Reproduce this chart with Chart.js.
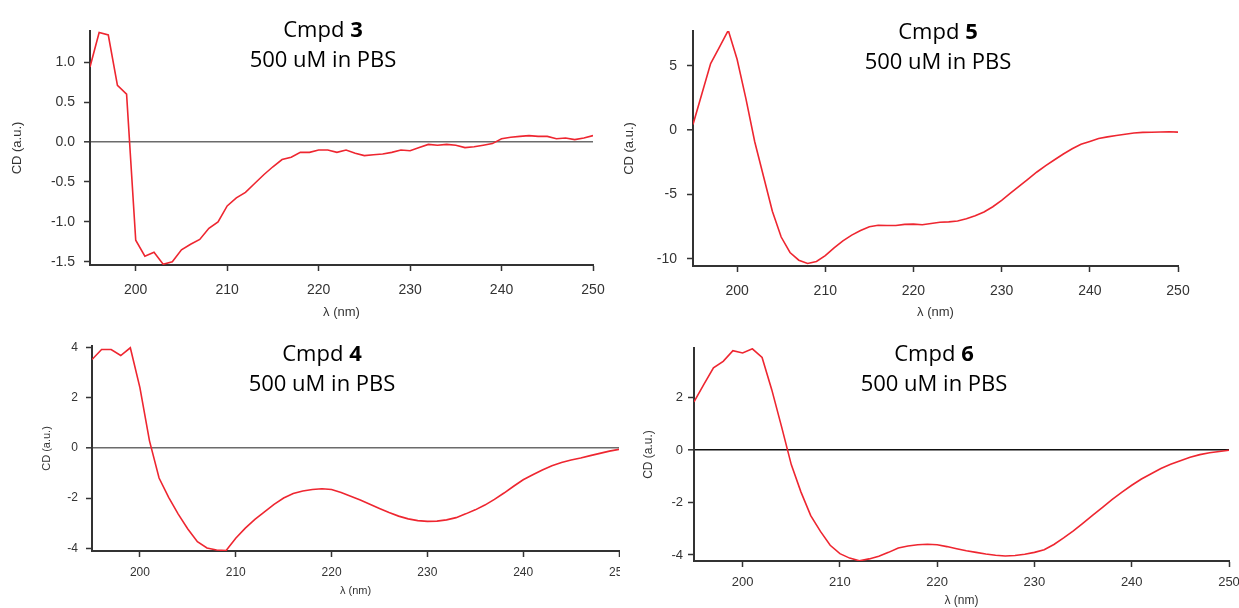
<!DOCTYPE html>
<html>
<head>
<meta charset="utf-8">
<script src="https://cdn.jsdelivr.net/npm/chart.js@4"></script>
<style>
  body { margin: 0; background: #fff; width: 1239px; height: 608px; overflow: hidden; position: relative; }
  canvas { position: absolute; }
  .ttl { position: absolute; width: 300px; text-align: center; font-family: "Open Sans", sans-serif;
         font-size: 22px; line-height: 30px; color: #000; }
  .ttl b { font-weight: 700; }
</style>
</head>
<body>
<canvas id="c3" style="left:0;top:0" width="620" height="320"></canvas>
<canvas id="c5" style="left:620px;top:0" width="619" height="320"></canvas>
<canvas id="c4" style="left:0;top:320px" width="620" height="288"></canvas>
<canvas id="c6" style="left:620px;top:320px" width="619" height="288"></canvas>
<div class="ttl" style="left:173px;top:13px">Cmpd <b>3</b><br>500 uM in PBS</div>
<div class="ttl" style="left:788px;top:15px">Cmpd <b>5</b><br>500 uM in PBS</div>
<div class="ttl" style="left:172px;top:337px">Cmpd <b>4</b><br>500 uM in PBS</div>
<div class="ttl" style="left:784px;top:337px">Cmpd <b>6</b><br>500 uM in PBS</div>
<script>
// wavelength grid, 195..250 nm in 1 nm steps
const wavelengths = [195,196,197,198,199,200,201,202,203,204,205,206,207,208,209,210,
  211,212,213,214,215,216,217,218,219,220,221,222,223,224,225,226,227,228,229,230,
  231,232,233,234,235,236,237,238,239,240,241,242,243,244,245,246,247,248,249,250];

const cd3 = [0.94,1.37,1.34,0.71,0.60,-1.23,-1.43,-1.38,-1.53,-1.50,-1.35,-1.28,-1.22,-1.08,-1.00,-0.80,
  -0.70,-0.63,-0.52,-0.41,-0.31,-0.22,-0.19,-0.13,-0.13,-0.10,-0.10,-0.13,-0.10,-0.14,-0.17,-0.16,-0.15,-0.13,-0.10,-0.11,
  -0.07,-0.03,-0.04,-0.03,-0.04,-0.07,-0.06,-0.04,-0.02,0.04,0.06,0.07,0.08,0.07,0.07,0.04,0.05,0.03,0.05,0.08];

const cd5 = [0.44,2.8,5.17,6.45,7.75,5.5,2.45,-0.9,-3.6,-6.3,-8.3,-9.5,-10.1,-10.35,-10.2,-9.75,
  -9.15,-8.6,-8.15,-7.8,-7.5,-7.38,-7.4,-7.4,-7.32,-7.3,-7.35,-7.25,-7.15,-7.12,-7.05,-6.88,-6.65,-6.35,-5.95,-5.45,
  -4.9,-4.35,-3.8,-3.25,-2.75,-2.3,-1.85,-1.45,-1.1,-0.88,-0.65,-0.52,-0.42,-0.32,-0.22,-0.17,-0.16,-0.14,-0.13,-0.15];

const cd4 = [3.52,3.92,3.92,3.68,3.99,2.4,0.28,-1.2,-1.97,-2.64,-3.23,-3.74,-3.99,-4.07,-4.09,-3.6,
  -3.2,-2.85,-2.55,-2.25,-2.0,-1.82,-1.72,-1.66,-1.63,-1.66,-1.78,-1.93,-2.08,-2.25,-2.42,-2.58,-2.72,-2.83,-2.9,-2.93,
  -2.92,-2.87,-2.78,-2.63,-2.47,-2.28,-2.05,-1.8,-1.53,-1.27,-1.07,-0.88,-0.71,-0.58,-0.48,-0.4,-0.31,-0.22,-0.13,-0.06];

const cd6 = [1.84,2.5,3.14,3.39,3.8,3.71,3.87,3.54,2.3,0.9,-0.55,-1.6,-2.5,-3.1,-3.63,-3.95,
  -4.12,-4.22,-4.15,-4.05,-3.9,-3.73,-3.66,-3.61,-3.59,-3.61,-3.68,-3.76,-3.84,-3.9,-3.96,-4.01,-4.04,-4.02,-3.97,-3.9,
  -3.8,-3.6,-3.35,-3.08,-2.78,-2.48,-2.18,-1.88,-1.6,-1.34,-1.1,-0.9,-0.7,-0.54,-0.4,-0.27,-0.17,-0.1,-0.05,0.0];

const xTicks = [200, 210, 220, 230, 240, 250];
const yTicks3 = [-1.5, -1.0, -0.5, 0.0, 0.5, 1.0];
const yTicks5 = [-10, -5, 0, 5];
const yTicks4 = [-4, -2, 0, 2, 4];
const yTicks6 = [-4, -2, 0, 2];

function drawPanel(id, values, yTicks, p) {
  const inkCol = "#333";
  new Chart(document.getElementById(id), {
    type: "line",
    data: {
      datasets: [{
        data: wavelengths.map((w, i) => ({ x: w, y: values[i] })),
        borderColor: "#ee2630",
        borderWidth: 1.6,
        pointRadius: 0,
        tension: 0
      }]
    },
    options: {
      responsive: false,
      animation: false,
      layout: { padding: { top: p.top, right: p.right, left: 0, bottom: 0 } },
      plugins: { legend: { display: false }, tooltip: { enabled: false } },
      scales: {
        x: {
          type: "linear", min: 195, max: 250,
          afterBuildTicks: s => { s.ticks = xTicks.map(v => ({ value: v })); },
          // fixed axis height, no extra room for the last label
          afterFit: s => { s.height = p.xh; s.paddingLeft = 0; s.paddingRight = 0; },
          border: { display: true, color: inkCol, width: 2 },
          grid: { drawOnChartArea: false, tickLength: 6, tickColor: inkCol, tickWidth: 1.5 },
          ticks: { color: inkCol, padding: p.xpad, maxRotation: 0, font: { family: "Liberation Sans", size: p.fs } },
          title: { display: true, text: "λ (nm)", color: inkCol, padding: { top: 0, bottom: p.xtpad },
                   font: { family: "Liberation Sans", size: p.fs - 1 } }
        },
        y: {
          min: p.ymin, max: p.ymax,
          afterBuildTicks: s => { s.ticks = yTicks.map(v => ({ value: v })); },
          afterFit: s => { s.width = p.yw; s.paddingTop = 0; s.paddingBottom = 0; },
          border: { display: true, color: inkCol, width: 2 },
          grid: {
            drawOnChartArea: true,
            color: c => (c.tick && c.tick.value === 0 && p.zero) ? p.zero : "rgba(0,0,0,0)",
            lineWidth: c => (c.tick && c.tick.value === 0) ? 1.6 : 1,
            tickLength: 6, tickColor: inkCol, tickWidth: 1.5
          },
          ticks: {
            color: inkCol, padding: p.ypad, font: { family: "Liberation Sans", size: p.fs },
            callback: v => p.dec ? v.toFixed(1) : String(v)
          },
          title: { display: true, text: "CD (a.u.)", color: inkCol, padding: { top: p.ytpad, bottom: 0 },
                   font: { family: "Liberation Sans", size: p.fs - 1 } }
        }
      }
    }
  });
}

drawPanel("c3", cd3, yTicks3, { top: 31, right: 27, xh: 55, yw: 90, ymin: -1.54, ymax: 1.39,
  fs: 14, xpad: 11, xtpad: 0, ypad: 9, ytpad: 10, zero: "#6b6b6b", dec: true });
drawPanel("c5", cd5, yTicks5, { top: 31, right: 61, xh: 54, yw: 73, ymin: -10.55, ymax: 7.7,
  fs: 14, xpad: 11, xtpad: 0, ypad: 10, ytpad: 2, zero: null, dec: false });
drawPanel("c4", cd4, yTicks4, { top: 26, right: 1, xh: 57, yw: 92, ymin: -4.11, ymax: 4.06,
  fs: 12, xpad: 8, xtpad: 10, ypad: 8, ytpad: 40, zero: "#6b6b6b", dec: false });
drawPanel("c6", cd6, yTicks6, { top: 28, right: 10, xh: 47, yw: 74, ymin: -4.23, ymax: 3.9,
  fs: 13, xpad: 8, xtpad: 0, ypad: 5, ytpad: 21, zero: "#111", dec: false });
</script>
</body>
</html>
